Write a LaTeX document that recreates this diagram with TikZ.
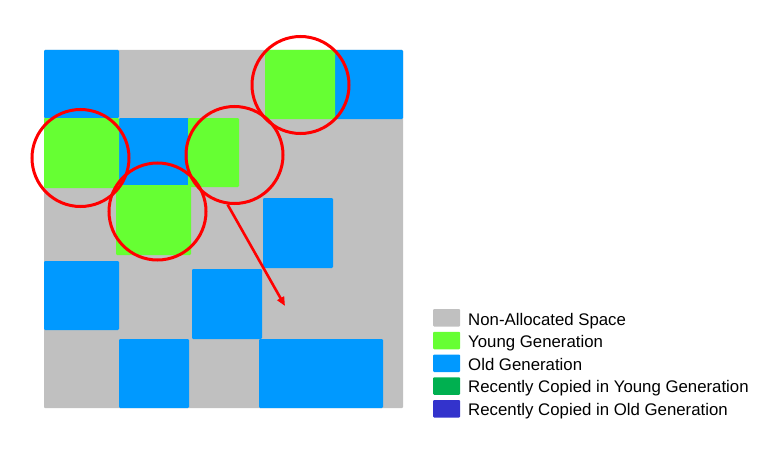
\documentclass[tikz,border=0pt]{standalone}
\usepackage{fontspec}
\setmainfont{Liberation Sans}
\usetikzlibrary{arrows.meta}
\definecolor{gcgray}{HTML}{C0C0C0}
\definecolor{gcyoung}{HTML}{66FF33}
\definecolor{gcold}{HTML}{0099FF}
\definecolor{gccopyyoung}{HTML}{00B050}
\definecolor{gccopyold}{HTML}{3333CC}
\definecolor{gcred}{HTML}{FF0000}
\begin{document}
\begin{tikzpicture}[x=1pt,y=-1pt,
  region/.style={rounded corners=1.2pt},
  young/.style={region,fill=gcyoung},
  old/.style={region,fill=gcold},
  ring/.style={circle,draw=gcred,line width=3pt,minimum size=97pt,inner sep=0pt},
  legbox/.style={rounded corners=1pt},
  legtext/.style={anchor=base west,inner sep=0pt,font=\fontsize{16.8}{18}\selectfont},
  move/.style={draw=gcred,line width=2.6pt,-{Triangle[length=9pt,width=7.5pt]}}]
\useasboundingbox (0,0) rectangle (774,452);
% heap area
\fill[gcgray,rounded corners=1pt] (44,50) rectangle (403,408);
% old generation regions
\fill[old] (44,50) rectangle (119,118);
\fill[old] (335,50) rectangle (403,119);
\fill[old] (119,118) rectangle (189,185);
\fill[old] (263,198) rectangle (333,268);
\fill[old] (44,261) rectangle (119,330);
\fill[old] (192,269) rectangle (262,339);
\fill[old] (119,339) rectangle (189,408);
\fill[old] (259,339) rectangle (383,408);
% young generation regions
\fill[young] (265,50) rectangle (335,119);
\fill[young] (44,118) rectangle (119,188);
\fill[young] (188,118) rectangle (239,187);
\fill[young] (116,185) rectangle (191,255);
% circles
\node[ring] (cA) at (80.5,158) {};
\node[ring] (cB) at (157.5,211.5) {};
\node[ring] (cC) at (234.5,155) {};
\node[ring] (cD) at (300.5,85) {};
\coordinate (target) at (285,306);
\draw[move] (cC.262) -- (target);
% legend
\fill[legbox,gcgray] (433,309) rectangle (460,326.5);
\fill[legbox,gcyoung] (433,331.75) rectangle (460,349.25);
\fill[legbox,gcold] (433,354.5) rectangle (460,372);
\fill[legbox,gccopyyoung] (433,377.25) rectangle (460,394.75);
\fill[legbox,gccopyold] (433,400) rectangle (460,417.5);
\node[legtext] (l1) at (468,325) {Non-Allocated Space};
\node[legtext] (l2) at (468,347.5) {Young Generation};
\node[legtext] (l3) at (468,370) {Old Generation};
\node[legtext] (l4) at (468,392.5) {Recently Copied in Young Generation};
\node[legtext] (l5) at (468,415) {Recently Copied in Old Generation};
\end{tikzpicture}
\end{document}
